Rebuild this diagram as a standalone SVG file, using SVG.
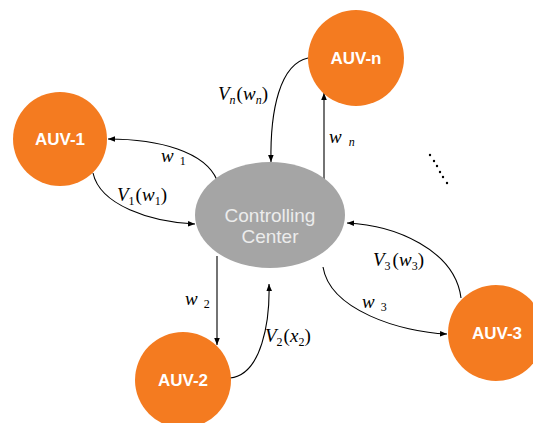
<svg xmlns="http://www.w3.org/2000/svg" width="533" height="423" viewBox="0 0 533 423">
<defs>
<marker id="arr" viewBox="0 0 10 10" refX="10" refY="5" markerWidth="7" markerHeight="7" orient="auto" markerUnits="userSpaceOnUse">
<path d="M0,1 L10,5 L0,9 Z" fill="#000"/>
</marker>
<style>
.auv{fill:#f47b20;}
.auvt{fill:#fff;font-family:"Liberation Sans",Arial,sans-serif;font-weight:bold;font-size:17px;text-anchor:middle;}
.ct{fill:#ececec;font-family:"Liberation Sans",Arial,sans-serif;font-size:19px;text-anchor:middle;}
.con{fill:none;stroke:#000;stroke-width:1.1;marker-end:url(#arr);}
.lb{font-family:"Liberation Serif","Times New Roman",serif;font-size:19px;fill:#000;}
.it{font-style:italic;}
.sb{font-size:12px;}
</style>
</defs>
<rect width="533" height="423" fill="#fff"/>
<g id="connectors">
<path class="con" d="M217,180 C205,152 160,139 108,139"/>
<path class="con" d="M93,173 C100,205 150,222 195,224"/>
<path class="con" d="M308,58 C280,64 270,110 271,162"/>
<path class="con" d="M324,181 L324,93"/>
<path class="con" d="M217,256 L217,345"/>
<path class="con" d="M230,378 C262,375 270,320 269,284"/>
<path class="con" d="M461,298 C455,250 395,225 347,223"/>
<path class="con" d="M323,267 C330,310 400,332 447,334"/>
</g>
<g id="labels">
<text class="lb" x="161" y="162"><tspan class="it">w</tspan><tspan class="sb" dx="6" dy="3">1</tspan></text>
<text class="lb" x="117" y="201"><tspan class="it">V</tspan><tspan class="sb" dy="4">1</tspan><tspan dy="-4" dx="1">(</tspan><tspan class="it">w</tspan><tspan class="sb" dy="4">1</tspan><tspan dy="-4">)</tspan></text>
<text class="lb" x="218" y="100"><tspan class="it">V</tspan><tspan class="sb it" dy="4">n</tspan><tspan dy="-4" dx="1">(</tspan><tspan class="it">w</tspan><tspan class="sb it" dy="4">n</tspan><tspan dy="-4">)</tspan></text>
<text class="lb" x="329" y="143"><tspan class="it">w</tspan><tspan class="sb it" dx="7" dy="3">n</tspan></text>
<text class="lb" x="185" y="305"><tspan class="it">w</tspan><tspan class="sb" dx="6" dy="3">2</tspan></text>
<text class="lb" x="265" y="342"><tspan class="it">V</tspan><tspan class="sb" dy="4">2</tspan><tspan dy="-4" dx="1">(</tspan><tspan class="it">x</tspan><tspan class="sb" dy="4">2</tspan><tspan dy="-4">)</tspan></text>
<text class="lb" x="373" y="266"><tspan class="it">V</tspan><tspan class="sb" dy="4">3</tspan><tspan dy="-4" dx="2">(</tspan><tspan class="it">w</tspan><tspan class="sb" dy="4">3</tspan><tspan dy="-4">)</tspan></text>
<text class="lb" x="362" y="308"><tspan class="it">w</tspan><tspan class="sb" dx="6" dy="3">3</tspan></text>
</g>
<g id="center">
<ellipse cx="270" cy="215" rx="75" ry="53" fill="#a5a5a5"/>
<text class="ct" x="270" y="222">Controlling</text>
<text class="ct" x="270" y="243">Center</text>
</g>
<g id="auv-1">
<circle class="auv" cx="60" cy="139" r="47"/>
<text class="auvt" x="60" y="145">AUV-1</text>
</g>
<g id="auv-n">
<circle class="auv" cx="356" cy="58" r="48"/>
<text class="auvt" x="356" y="64">AUV-n</text>
</g>
<g id="auv-2">
<circle class="auv" cx="183" cy="380" r="48"/>
<text class="auvt" x="183" y="386">AUV-2</text>
</g>
<g id="auv-3">
<circle class="auv" cx="496" cy="333" r="48"/>
<text class="auvt" x="497" y="339">AUV-3</text>
</g>
<g id="dots" fill="#000">
<circle cx="430" cy="155" r="1.2"/>
<circle cx="434" cy="161" r="1.2"/>
<circle cx="437" cy="166" r="1.2"/>
<circle cx="440" cy="172" r="1.2"/>
<circle cx="443" cy="177" r="1.2"/>
<circle cx="447" cy="183" r="1.2"/>
</g>
</svg>
